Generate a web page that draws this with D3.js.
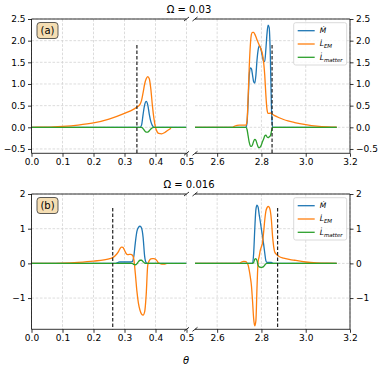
<!DOCTYPE html>
<html><head><meta charset="utf-8">
<script src="https://cdn.jsdelivr.net/npm/d3@7"></script>
<style>body{margin:0;background:#fff;} svg{display:block;font-family:"DejaVu Sans",sans-serif;}</style>
</head><body><svg id="c" width="382" height="372"></svg>
<script>
// ---------- data ----------
const titles = ["\u03A9 = 0.03", "\u03A9 = 0.016"];
const panelLabels = ["(a)", "(b)"];
const seriesNames = ["M", "L_EM", "L_matter"];
const colors = ["#1f77b4", "#ff7f0e", "#2ca02c"];

const xTicksL = [0, 0.1, 0.2, 0.3, 0.4, 0.5];
const xTicksR = [2.6, 2.8, 3.0, 3.2];
const yTicksA = [-0.5, 0, 0.5, 1, 1.5, 2, 2.5];
const yTicksB = [-1, 0, 1, 2];

// Omega = 0.03, left part
const thetaA1 = [0,0.05,0.1,0.15,0.2,0.25,0.3,0.33,0.345,0.35,0.355,0.36,0.365,0.37,0.375,0.38,0.385,0.39,0.395,0.4,0.405,0.41,0.42,0.43,0.44,0.45,0.5];
const mdotA1 = [0,0,0,0,0,0,0,0,0,0,0.05,0.3,0.52,0.6,0.52,0.3,0.13,0.04,0,0,0,0,0,0,0,0,0];
const lemA1  = [0,0.003,0.02,0.05,0.1,0.19,0.32,0.42,0.49,0.53,0.62,0.8,1.0,1.12,1.17,1.12,0.88,0.5,0.2,0.0,-0.1,-0.14,-0.15,-0.12,-0.07,-0.02,null];
const lmatA1 = [0,0,0,0,0,0,0,0,0,0,0,-0.03,-0.08,-0.11,-0.11,-0.08,-0.04,-0.01,0,0,0,0,0,0,0,0,0];
// Omega = 0.03, right part
const thetaA2 = [2.5,2.6,2.67,2.68,2.7,2.72,2.73,2.735,2.74,2.745,2.75,2.755,2.76,2.765,2.77,2.775,2.78,2.785,2.79,2.795,2.8,2.805,2.81,2.815,2.82,2.825,2.83,2.835,2.84,2.845,2.85,2.86,2.88,2.9,2.95,3.0,3.05,3.1,3.14];
const mdotA2 = [0,0,0,0,0,0,0,0.1,0.6,1.2,1.37,1.35,1.2,1.05,1.02,1.2,1.55,1.78,1.88,1.85,1.75,1.62,1.52,1.52,1.8,2.15,2.36,2.3,1.7,0.5,0,0,0,0,0,0,0,0,0];
const lemA2  = [0,0,0,0.03,0.05,0.05,0.05,0.15,0.7,1.4,1.9,2.15,2.19,2.19,2.15,2.09,2.02,1.96,1.9,1.84,1.78,1.68,1.5,1.2,0.75,0.42,0.32,0.32,0.33,0.32,0.3,0.27,0.22,0.18,0.11,0.06,0.025,0.008,0.002];
const lmatA2 = [0,0,0,0,0,0,0,-0.05,-0.2,-0.35,-0.43,-0.44,-0.4,-0.32,-0.28,-0.3,-0.38,-0.45,-0.47,-0.45,-0.4,-0.33,-0.27,-0.2,-0.18,-0.22,-0.24,-0.22,-0.2,-0.1,0,0,0,0,0,0,0,0,0];
// Omega = 0.016, left part
const thetaB1 = [0,0.05,0.1,0.15,0.2,0.25,0.26,0.27,0.28,0.285,0.29,0.295,0.3,0.305,0.31,0.315,0.32,0.325,0.33,0.335,0.34,0.345,0.35,0.355,0.36,0.365,0.37,0.375,0.38,0.385,0.39,0.395,0.4,0.405,0.41,0.42,0.43,0.435,0.5];
const mdotB1 = [0,0,0,0,0,0,0,0,0.03,0.04,0.04,0.04,0.04,0.04,0.04,0.04,0.04,0.05,0.2,0.6,0.92,1.04,1.07,1.02,0.75,0.2,0.02,0,0,0,0,0,0,0,0,0,0,0,0];
const lemB1  = [0,0.002,0.01,0.03,0.065,0.13,0.16,0.22,0.33,0.42,0.47,0.46,0.38,0.29,0.25,0.26,0.26,0.24,0.12,-0.3,-0.8,-1.15,-1.35,-1.46,-1.49,-1.4,-0.9,-0.05,0.08,0.13,0.14,0.14,0.12,0.07,0.01,-0.02,-0.02,-0.01,null];
const lmatB1 = [0,0,0,0,0,0,0,0,0,0,0,0,0,0,0,0,0,0,-0.03,-0.04,-0.01,0.05,0.09,0.09,0.05,0.01,0,0,0,0,0,0,0,0,0,0,0,0,0];
// Omega = 0.016, right part
const thetaB2 = [2.5,2.6,2.7,2.71,2.72,2.73,2.735,2.74,2.745,2.75,2.755,2.76,2.765,2.77,2.775,2.78,2.785,2.79,2.795,2.8,2.805,2.81,2.815,2.82,2.825,2.83,2.835,2.84,2.845,2.85,2.855,2.86,2.87,2.88,2.9,2.95,3.0,3.05,3.1,3.14];
const mdotB2 = [0,0,0,0,0,0,0,0,0,0,0,0,0.3,1.0,1.55,1.68,1.62,1.4,1.2,0.98,0.77,0.55,0.3,0.08,0.03,0.03,0.03,0.03,0.03,0.01,0,0,0,0,0,0,0,0,0,0];
const lemB2  = [0,0,0,0.04,0.06,0.05,0.01,-0.05,-0.2,-0.4,-0.65,-1.1,-1.6,-1.8,-1.65,-0.7,0.05,0.2,0.38,0.48,0.6,0.9,1.25,1.5,1.6,1.64,1.62,1.52,1.25,0.8,0.5,0.33,0.25,0.2,0.15,0.09,0.04,0.015,0.004,0.001];
const lmatB2 = [0,0,0,0,0,0,0,0,0,0,0,0,0.03,0.12,0.14,0.08,-0.05,-0.1,-0.11,-0.12,-0.11,-0.09,-0.05,-0.01,0,0,0,0,0,0,0,0,0,0,0,0,0,0,0,0];

// dashed markers (theta positions) and their top value
const cutsA = [0.34, 2.848], cutTopA = 1.9;
const cutsB = [0.262, 2.873], cutTopB = 1.6;

// ---------- layout ----------
const svg = d3.select("#c");
const xL = d3.scaleLinear().domain([0, 0.5]).range([31.5, 186.5]);
const xR = d3.scaleLinear().domain([2.5, 3.2]).range([195, 350]);
const yA = d3.scaleLinear().domain([-0.6, 2.5]).range([153.3, 19]);
const yB = d3.scaleLinear().domain([-1.9, 2]).range([329.3, 194]);

const rows = [
  {y: yA, yTicks: yTicksA, fmt: d3.format(".1f"), cuts: cutsA, cutTop: cutTopA,
   L: {t: thetaA1, s: [mdotA1, lemA1, lmatA1]}, R: {t: thetaA2, s: [mdotA2, lemA2, lmatA2]}},
  {y: yB, yTicks: yTicksB, fmt: d3.format("d"), cuts: cutsB, cutTop: cutTopB,
   L: {t: thetaB1, s: [mdotB1, lemB1, lmatB1]}, R: {t: thetaB2, s: [mdotB2, lemB2, lmatB2]}}
];

const FS = 9;
rows.forEach((row, ri) => {
  const y = row.y;
  const [yb, yt] = y.range();
  const g = svg.append("g");
  [["L", xL, xTicksL], ["R", xR, xTicksR]].forEach(([side, x, xt]) => {
    const [x0, x1] = x.range();
    const clipId = "clip" + ri + side;
    svg.append("clipPath").attr("id", clipId).append("rect")
      .attr("x", x0).attr("y", yt).attr("width", x1 - x0).attr("height", yb - yt);
    // grid
    const grid = g.append("g").attr("stroke", "#d3d3d3").attr("stroke-width", 0.8).attr("stroke-dasharray", "2.6,1.6");
    grid.selectAll(".gx").data(xt).join("line")
      .attr("x1", d => x(d)).attr("x2", d => x(d)).attr("y1", yt).attr("y2", yb);
    grid.selectAll(".gy").data(row.yTicks).join("line")
      .attr("x1", x0).attr("x2", x1).attr("y1", d => y(d)).attr("y2", d => y(d));
    // series
    const d = row[side];
    const pg = g.append("g").attr("clip-path", `url(#${clipId})`);
    d.s.forEach((vals, si) => {
      const pts = d.t.map((t, i) => [t, vals[i]]);
      const line = d3.line().defined(p => p[1] !== null)
        .x(p => x(p[0])).y(p => y(p[1])).curve(d3.curveMonotoneX);
      pg.append("path").datum(pts).attr("d", line).attr("fill", "none")
        .attr("stroke", colors[si]).attr("stroke-width", 1.3).attr("stroke-linejoin", "round");
    });
    // dashed cut
    const c = side === "L" ? row.cuts[0] : row.cuts[1];
    g.append("line").attr("x1", x(c)).attr("x2", x(c)).attr("y1", y(row.cutTop)).attr("y2", yb)
      .attr("stroke", "#222").attr("stroke-width", 1.2).attr("stroke-dasharray", "3.5,2");
    // x axis
    const ax = g.append("g").attr("transform", `translate(0,${yb})`)
      .call(d3.axisBottom(x).tickValues(xt).tickFormat(d3.format(".1f")).tickSize(3.5).tickPadding(2).tickSizeOuter(0));
    ax.select(".domain").remove();
    // y axis
    const ay = g.append("g").attr("transform", `translate(${side === "L" ? x0 : x1},0)`)
      .call((side === "L" ? d3.axisLeft(y) : d3.axisRight(y)).tickValues(row.yTicks).tickFormat(row.fmt)
        .tickSize(3.5).tickPadding(2.5).tickSizeOuter(0));
    ay.select(".domain").remove();
    [ax, ay].forEach(a => {
      a.selectAll("text").attr("font-size", FS).attr("font-family", "DejaVu Sans").attr("fill", "#000");
      a.selectAll("line").attr("stroke", "#000").attr("stroke-width", 0.8);
    });
    // spines
    const sp = g.append("g").attr("stroke", "#000").attr("stroke-width", 0.8).attr("fill", "none");
    sp.append("line").attr("x1", x0).attr("x2", x1).attr("y1", yt).attr("y2", yt);
    sp.append("line").attr("x1", x0).attr("x2", x1).attr("y1", yb).attr("y2", yb);
    const sx = side === "L" ? x0 : x1;
    sp.append("line").attr("x1", sx).attr("x2", sx).attr("y1", yt).attr("y2", yb);
    // break marks
    const bx = side === "L" ? x1 : x0;
    [yt, yb].forEach(by => {
      sp.append("line").attr("x1", bx - 2.5).attr("x2", bx + 2.5).attr("y1", by + 2).attr("y2", by - 2);
    });
  });

  // title
  svg.append("text").attr("x", 189).attr("y", yt - 6.5).attr("text-anchor", "middle")
    .attr("font-size", 10).text(titles[ri]);
  // panel label
  const lb = svg.append("g");
  lb.append("rect").attr("x", 37).attr("y", yt + 3.5).attr("width", 21).attr("height", 16).attr("rx", 3)
    .attr("fill", "#f5deb3").attr("stroke", "#333").attr("stroke-width", 0.8);
  lb.append("text").attr("x", 47.5).attr("y", yt + 15.3).attr("text-anchor", "middle")
    .attr("font-size", 10).text(panelLabels[ri]);

  // legend
  const lg = svg.append("g").attr("transform", `translate(293.7,${yt + 3.7})`);
  lg.append("rect").attr("width", 53).attr("height", 42.3).attr("rx", 2)
    .attr("fill", "#fff").attr("fill-opacity", 0.8).attr("stroke", "#d0d0d0").attr("stroke-width", 0.8);
  seriesNames.forEach((nm, i) => {
    const ly = 8 + i * 13.3;
    lg.append("line").attr("x1", 4).attr("x2", 21).attr("y1", ly).attr("y2", ly)
      .attr("stroke", colors[i]).attr("stroke-width", 1.3);
    const [base, sub] = nm.split("_");
    const t = lg.append("text").attr("x", 26).attr("y", ly + 2.5).attr("font-size", 7.5).attr("font-style", "italic");
    t.append("tspan").text(base === "M" ? "M\u0307" : "L\u0307");
    if (sub) t.append("tspan").attr("font-size", 5.5).attr("dy", 1.8).text(sub);
  });
});

// x label
svg.append("text").attr("x", 186).attr("y", 364).attr("text-anchor", "middle")
  .attr("font-size", 10).attr("font-style", "italic").text("\u03B8");
</script>
</body></html>
